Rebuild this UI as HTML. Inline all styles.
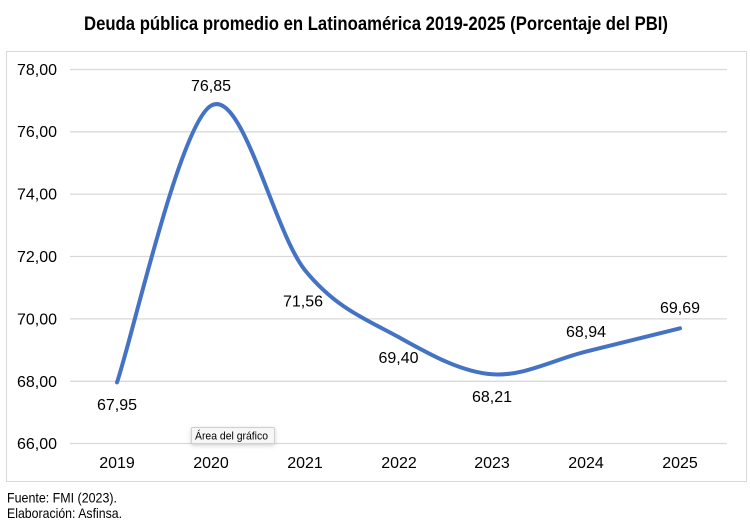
<!DOCTYPE html>
<html>
<head>
<meta charset="utf-8">
<style>
html,body{margin:0;padding:0;background:#fff;}
svg{display:block;}
text{font-family:"Liberation Sans",Arial,sans-serif;fill:#000;}
</style>
</head>
<body>
<svg width="750" height="528" viewBox="0 0 750 528" xmlns="http://www.w3.org/2000/svg">
  <defs>
    <filter id="sh" x="-20%" y="-50%" width="140%" height="220%">
      <feDropShadow dx="0" dy="1.5" stdDeviation="2" flood-color="#000" flood-opacity="0.18"/>
    </filter>
  </defs>
  <rect x="0" y="0" width="750" height="528" fill="#fff"/>
  <!-- Title -->
  <text x="84" y="30" font-size="19" font-weight="bold" textLength="584" lengthAdjust="spacingAndGlyphs">Deuda pública promedio en Latinoamérica 2019-2025 (Porcentaje del PBI)</text>

  <!-- Chart box -->
  <rect x="6.5" y="51.5" width="740" height="430" fill="#fff" stroke="#d9d9d9" stroke-width="1"/>

  <!-- Gridlines -->
  <g stroke="#d9d9d9" stroke-width="1.3">
    <line x1="70" y1="69.5" x2="727" y2="69.5"/>
    <line x1="70" y1="131.8" x2="727" y2="131.8"/>
    <line x1="70" y1="194.1" x2="727" y2="194.1"/>
    <line x1="70" y1="256.5" x2="727" y2="256.5"/>
    <line x1="70" y1="318.9" x2="727" y2="318.9"/>
    <line x1="70" y1="381.3" x2="727" y2="381.3"/>
    <line x1="70" y1="443.5" x2="727" y2="443.5"/>
  </g>

  <!-- Y axis labels -->
  <g font-size="16" text-anchor="end">
    <text x="57" y="75">78,00</text>
    <text x="57" y="137">76,00</text>
    <text x="57" y="199.5">74,00</text>
    <text x="57" y="262">72,00</text>
    <text x="57" y="324.5">70,00</text>
    <text x="57" y="387">68,00</text>
    <text x="57" y="449">66,00</text>
  </g>

  <!-- X axis labels -->
  <g font-size="16" text-anchor="middle">
    <text x="117" y="468">2019</text>
    <text x="211" y="468">2020</text>
    <text x="305" y="468">2021</text>
    <text x="399" y="468">2022</text>
    <text x="492" y="468">2023</text>
    <text x="586" y="468">2024</text>
    <text x="680" y="468">2025</text>
  </g>

  <!-- Series -->
  <path d="M117,382.4 C132.7,336.3 179.7,124.4 211,105.7 C242.3,87 273.7,231.6 305,270.2 C336.3,308.8 367.8,320 399,337.3 C430.2,354.65 460.8,371.9 492,374.3 C523.2,376.7 554.7,359.3 586,351.6 C617.3,343.9 664.3,332.2 680,328.3"
        fill="none" stroke="#4472c4" stroke-width="4" stroke-linecap="round" stroke-linejoin="round"/>

  <!-- Data labels -->
  <g font-size="16" text-anchor="middle">
    <text x="117" y="410">67,95</text>
    <text x="211" y="91">76,85</text>
    <text x="303" y="306.5">71,56</text>
    <text x="398.5" y="363">69,40</text>
    <text x="492" y="402">68,21</text>
    <text x="586" y="337">68,94</text>
    <text x="680" y="313">69,69</text>
  </g>

  <!-- Tooltip -->
  <g filter="url(#sh)">
    <rect x="191.5" y="427.5" width="83" height="16" rx="1" fill="#f6f6f6" stroke="#cfcfcf" stroke-width="1"/>
  </g>
  <text x="195" y="439.5" font-size="11" textLength="73" lengthAdjust="spacingAndGlyphs" fill="#222">Área del gráfico</text>

  <!-- Footer -->
  <text x="7" y="502.5" font-size="14" textLength="110" lengthAdjust="spacingAndGlyphs">Fuente: FMI (2023).</text>
  <text x="7" y="518" font-size="14" textLength="115" lengthAdjust="spacingAndGlyphs">Elaboración: Asfinsa.</text>
</svg>
</body>
</html>
